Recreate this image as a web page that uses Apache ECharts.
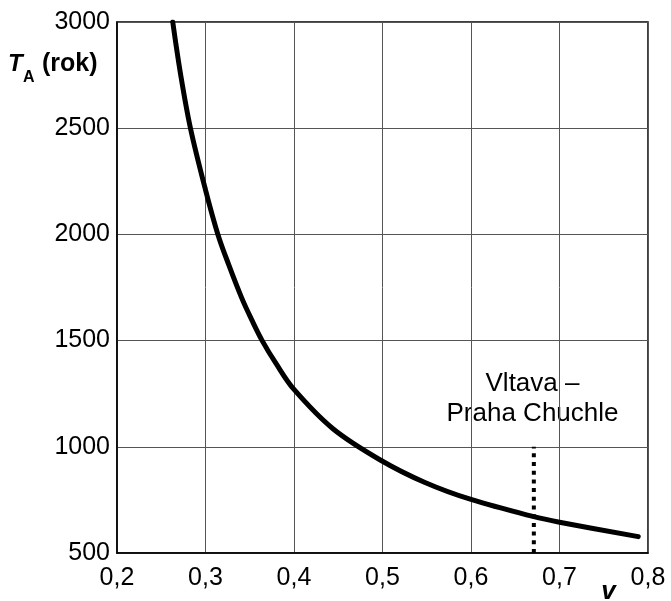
<!DOCTYPE html>
<html><head><meta charset="utf-8">
<script src="https://cdn.jsdelivr.net/npm/echarts@6/dist/echarts.min.js"></script>
<style>html,body{margin:0;padding:0;background:#fff}#c{width:671px;height:601px}</style>
</head><body><div id="c"></div>
<script>
const vValues = [0.263, 0.272, 0.283, 0.300, 0.314, 0.326, 0.341, 0.352, 0.364, 0.380, 0.400, 0.444, 0.4975, 0.548, 0.600, 0.671, 0.700, 0.789];
const tValues = [3000, 2750, 2500, 2210, 2000, 1860, 1700, 1600, 1500, 1390, 1270, 1085, 938, 832, 752, 671, 645, 577];
const markerV = 0.671;
const markerT = [500, 1000];
const markerLabel = ['Vltava –', 'Praha Chuchle'];
const xTicks = [0.2, 0.3, 0.4, 0.5, 0.6, 0.7, 0.8];
const yTicks = [500, 1000, 1500, 2000, 2500, 3000];

const font = 'Arial, "Liberation Sans", sans-serif';
const chart = echarts.init(document.getElementById('c'));
chart.setOption({
  animation: false,
  grid: {left: 117, right: 23, top: 22, bottom: 48, show: true, borderColor: '#000', borderWidth: 1.5, backgroundColor: 'transparent'},
  xAxis: {
    type: 'value', min: xTicks[0], max: xTicks[xTicks.length - 1], interval: 0.1,
    axisLine: {show: true, lineStyle: {color: '#000', width: 1.5}},
    axisTick: {show: false},
    splitLine: {show: true, lineStyle: {color: '#555', width: 1}},
    axisLabel: {color: '#000', fontSize: 25, fontFamily: font, margin: 13,
      formatter: v => v.toFixed(1).replace('.', ',')}
  },
  yAxis: {
    type: 'value', min: yTicks[0], max: yTicks[yTicks.length - 1], interval: 500,
    axisLine: {show: true, lineStyle: {color: '#000', width: 1.5}},
    axisTick: {show: false},
    splitLine: {show: true, lineStyle: {color: '#555', width: 1}},
    axisLabel: {color: '#000', fontSize: 25, fontFamily: font, margin: 7,
      formatter: v => String(v)}
  },
  series: [
    {
      type: 'line', smooth: 0.35, symbol: 'none',
      data: vValues.map((v, i) => [v, tValues[i]]),
      lineStyle: {color: '#000', width: 5, cap: 'round', join: 'round'}
    },
    {
      type: 'line', symbol: 'none',
      data: markerT.map(t => [markerV, t]),
      lineStyle: {color: '#000', width: 4, type: [4, 4.7]}
    }
  ],
  graphic: [
    {type: 'text', x: 8, y: 64, style: {text: 'T', fontFamily: font, fontSize: 24, fontWeight: 'bold', fontStyle: 'italic', fill: '#000', verticalAlign: 'middle'}},
    {type: 'text', x: 23, y: 78, style: {text: 'A', fontFamily: font, fontSize: 16, fontWeight: 'bold', fill: '#000', verticalAlign: 'middle'}},
    {type: 'text', x: 42, y: 64, style: {text: '(rok)', fontFamily: font, fontSize: 25, fontWeight: 'bold', fill: '#000', verticalAlign: 'middle'}},
    {type: 'text', x: 608.5, y: 592, style: {text: 'v', fontFamily: font, fontSize: 26, fontWeight: 'bold', fontStyle: 'italic', fill: '#000', align: 'center', verticalAlign: 'middle'}},
    {type: 'text', x: 532.5, y: 384, style: {text: markerLabel[0], fontFamily: font, fontSize: 26, fill: '#000', align: 'center', verticalAlign: 'middle'}},
    {type: 'text', x: 532.5, y: 414, style: {text: markerLabel[1], fontFamily: font, fontSize: 26, fill: '#000', align: 'center', verticalAlign: 'middle'}}
  ]
});
</script></body></html>
